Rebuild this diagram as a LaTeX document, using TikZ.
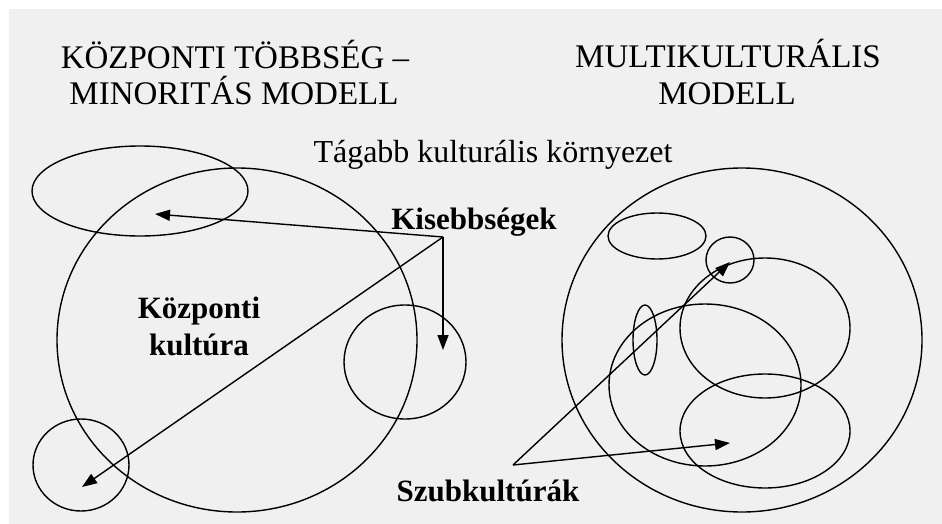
\documentclass[tikz,border=0pt]{standalone}
\usepackage{fontspec}
\setmainfont{Liberation Serif}
\usetikzlibrary{arrows.meta}
\definecolor{paper}{RGB}{240,240,240}
\tikzstyle{ring} = [draw, line width=1.4pt]
\tikzstyle{pointer} = [draw, line width=1.4pt, -{Triangle[length=15pt,width=11pt]}]
\tikzstyle{heading} = [font=\fontsize{33}{36}\selectfont, anchor=base, inner sep=0pt]
\tikzstyle{caption} = [font=\fontsize{31}{36}\selectfont\bfseries, anchor=base, inner sep=0pt]

\begin{document}
\begin{tikzpicture}[x=1pt, y=-1pt]
    % background
    \fill[white] (0,0) rectangle (942,524);
    \fill[paper] (9,9) rectangle (942,524);

    % headings
    \foreach \pos/\name/\label in {{(235,69)/hdLeftA/KÖZPONTI TÖBBSÉG –}, {(234,105)/hdLeftB/MINORITÁS MODELL}, {(728,68)/hdRightA/MULTIKULTURÁLIS}, {(727,105)/hdRightB/MODELL}}
        \node[heading] (\name) at \pos {\label};
    \node[heading, font=\fontsize{32}{36}\selectfont] (env) at (493,162) {Tágabb kulturális környezet};

    % left model: central culture and minorities
    \foreach \cx/\cy/\rx/\ry in {237/340/180/172, 140/191/108/45, 405/362/61/57, 81/465/48/46}
        \path[ring] (\cx,\cy) ellipse [x radius=\rx pt, y radius=\ry pt];

    % right model: subcultures
    \foreach \cx/\cy/\rx/\ry in {742/340/180/172, 657/236/49/23, 730/260/24/23, 765/328/85/70, 645/340/12/35, 705/385/96/81, 765/431/85/57}
        \path[ring] (\cx,\cy) ellipse [x radius=\rx pt, y radius=\ry pt];

    % labels
    \node[caption] (kpA) at (199,318) {Központi};
    \node[caption] (kpB) at (199,355) {kultúra};
    \node[caption] (kis) at (474,229) {Kisebbségek};
    \node[caption] (szub) at (488,501) {Szubkultúrák};

    % arrows
    \coordinate (kisRoot) at (443,237);
    \coordinate (minA) at (155,214);
    \coordinate (minB) at (443,350);
    \coordinate (minC) at (82,487);
    \coordinate (szubRoot) at (513,465);
    \coordinate (subA) at (730,262);
    \coordinate (subB) at (730,443);

    \foreach \dest in {minA, minB, minC}
        \path[pointer] (kisRoot) -- (\dest);
    \foreach \dest in {subA, subB}
        \path[pointer] (szubRoot) -- (\dest);
\end{tikzpicture}
\end{document}
